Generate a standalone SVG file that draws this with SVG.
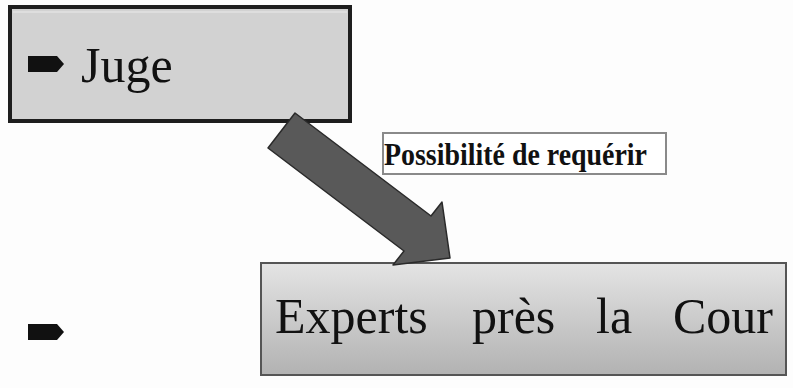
<svg xmlns="http://www.w3.org/2000/svg" width="793" height="388" viewBox="0 0 793 388">
<style>
.serif{font-family:"Liberation Serif","Times New Roman",serif;fill:#111}
.big{font-size:50px}
.lbl{font-size:32px;font-weight:bold}
.bullet{fill:#111}
</style>
<defs>
<linearGradient id="g" x1="0" y1="0" x2="0" y2="1">
<stop offset="0" stop-color="#e4e4e4"/>
<stop offset="1" stop-color="#b2b2b2"/>
</linearGradient>
</defs>
<rect width="793" height="388" fill="#fdfdfd"/>
<g id="juge">
<rect x="10" y="7" width="340" height="114" fill="#d2d2d2" stroke="#1e1e1e" stroke-width="4"/>
<line x1="13" y1="12" x2="347" y2="12" stroke="#e2e2e2" stroke-width="1.5"/>
<path class="bullet" d="M28 56 H57 L64 64 L57 72 H28 Z"/>
<text class="serif big" x="81" y="82">Juge</text>
</g>
<g id="bullet2">
<path class="bullet" d="M28 324 H57 L64 332 L57 340 H28 Z"/>
</g>
<g id="experts">
<rect x="261" y="263" width="525" height="112" fill="url(#g)" stroke="#555" stroke-width="2"/>
<text class="serif big" x="275" y="333">Experts</text>
<text class="serif big" x="472" y="333">près</text>
<text class="serif big" x="596" y="333">la</text>
<text class="serif big" x="673" y="333">Cour</text>
</g>
<g id="label">
<rect x="383" y="133" width="283" height="41" fill="#fff" stroke="#8a8a8a" stroke-width="2"/>
<text class="serif lbl" x="384" y="165" textLength="263" lengthAdjust="spacingAndGlyphs">Possibilité de requérir</text>
</g>
<g id="connectors">
<polygon points="295,113 431,216 442,202 450,258 393,265 404,251 268,148" fill="#595959" stroke="#2a2a2a" stroke-width="1.5" stroke-linejoin="round"/>
</g>
</svg>
